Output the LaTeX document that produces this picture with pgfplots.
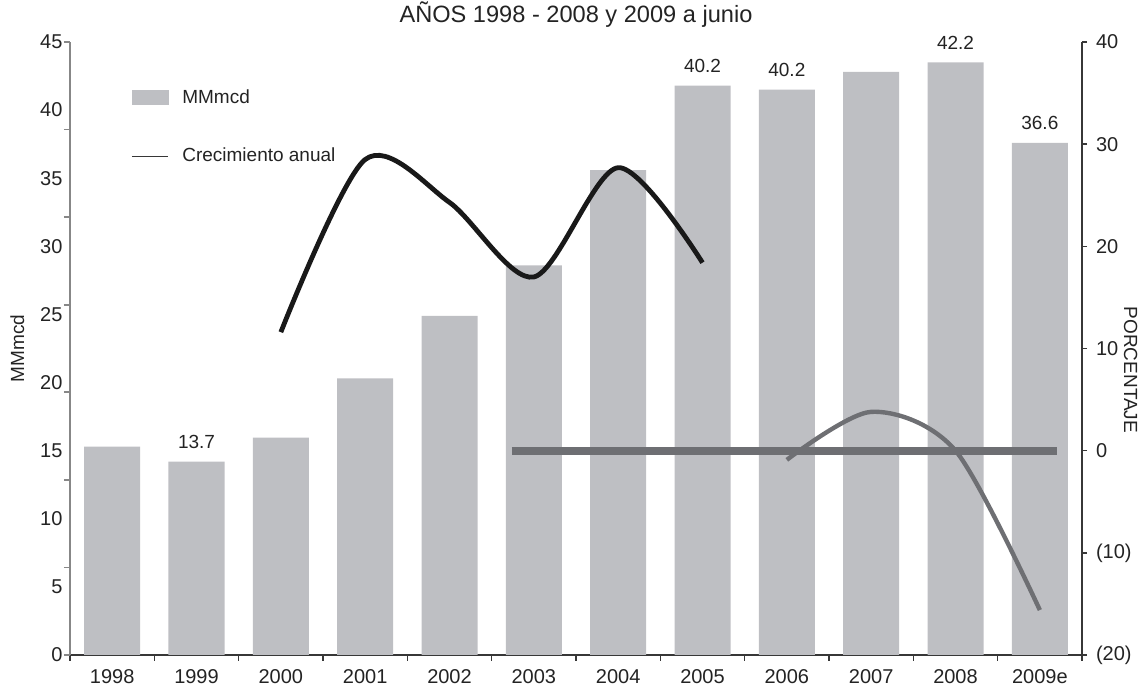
\documentclass[border=0pt]{standalone}
\usepackage{pgfplots}
\pgfplotsset{compat=1.18}
\usepackage{fontspec}
\setmainfont{Liberation Sans}
\definecolor{barGray}{RGB}{190,191,195}
\definecolor{lineGray}{RGB}{110,111,115}
\definecolor{axisDark}{RGB}{55,55,55}
\definecolor{axisGray}{RGB}{135,135,135}
\definecolor{txt}{RGB}{35,35,35}
\newcommand{\fs}{\fontsize{9.5}{11}\selectfont}
\newcommand{\fst}{\fontsize{10}{12}\selectfont}
\begin{document}
\begin{tikzpicture}
\pgfplotsset{
  base/.style={
    width=506pt, height=306.5pt, scale only axis,
    xmin=-0.5, xmax=11.5,
    /pgf/number format/assume math mode=true,
    tick label style={font=\fst, text=txt},
    label style={font=\fs, text=txt},
    axis line style={-},
    tick align=outside,
    clip=false,
  }
}
\begin{axis}[base, name=main,
  ymin=0, ymax=45,
  axis x line*=bottom, axis y line*=left,
  x axis line style={axisDark, line width=0.8pt},
  y axis line style={axisGray, line width=0.8pt},
  xtick={0,...,11},
  xticklabels={1998,1999,2000,2001,2002,2003,2004,2005,2006,2007,2008,2009e},
  major x tick style={draw=none},
  minor xtick={-0.5,0.5,1.5,2.5,3.5,4.5,5.5,6.5,7.5,8.5,9.5,10.5,11.5},
  minor x tick style={axisDark, line width=0.8pt},
  minor tick length=3pt,
  xticklabel style={yshift=0.5pt},
  ytick={0,5,...,45},
  major y tick style={draw=none},
  minor ytick={0,6.42857,12.85714,19.28571,25.71429,32.14286,38.57143,45},
  minor y tick style={axisGray, line width=0.8pt},
  yticklabel style={xshift=4pt},
  ylabel={MMmcd},
  ylabel style={at={(axis description cs:-0.052,0.5)}, anchor=center, rotate=0},
  title={AÑOS 1998 - 2008 y 2009 a junio},
  title style={at={(axis description cs:0.5,1)}, anchor=south, yshift=-2pt, font=\fontsize{11.8}{13}\selectfont, text=txt},
  legend style={draw=none, fill=none, at={(axis description cs:0.060,0.93)}, anchor=north west,
    font=\fs, text=txt, inner sep=0pt, row sep=17pt},
  legend cell align=left,
]
\addplot[ybar, bar width=28pt, fill=barGray, draw=none, forget plot,
  nodes near coords, point meta=explicit symbolic,
  nodes near coords style={font=\fs, text=txt, anchor=south, yshift=3pt}]
  coordinates {
  (0,15.3) []
  (1,14.2) [13.7]
  (2,15.95) []
  (3,20.3) []
  (4,24.9) []
  (5,28.6) []
  (6,35.6) []
  (7,41.8) [40.2]
  (8,41.5) [40.2]
  (9,42.8) []
  (10,43.5) [42.2]
  (11,37.6) [36.6]
  };
\addlegendimage{legend image code/.code={\fill[barGray] (0pt,-3.5pt) rectangle (18pt,3.5pt); \path (23pt,0pt);}}
\addlegendentry{MMmcd}
\addlegendimage{legend image code/.code={\draw[axisDark, line width=0.8pt] (0pt,0pt) -- (18pt,0pt); \path (23pt,0pt);}}
\addlegendentry{Crecimiento anual}
\end{axis}
\begin{axis}[base,
  ymin=-20, ymax=40,
  axis x line=none, axis y line*=right,
  y axis line style={axisDark, line width=0.8pt},
  ytick={-20,-10,...,40},
  yticklabels={(20),(10),0,10,20,30,40},
  major tick length=2.5pt,
  major y tick style={axisDark, line width=0.8pt},
  yticklabel style={xshift=1pt},
  ylabel={PORCENTAJE},
  ylabel style={at={(axis description cs:1.048,0.465)}, anchor=center, rotate=180},
]
\addplot[lineGray, line width=4pt] coordinates {(4.74,0) (11.2,0)};
\addplot[black!90, line width=2.4pt, smooth] coordinates {
  (2,11.6) (3,28.5) (4,24.3) (5,17.0) (6,27.7) (7,18.4)};
\addplot[lineGray, line width=2.2pt, smooth] coordinates {
  (8,-0.9) (9,3.8) (10,0) (11,-15.6)};
\end{axis}
\pgfresetboundingbox
\path ([xshift=-35pt,yshift=-20pt]main.south west) rectangle ([xshift=32.5pt,yshift=21pt]main.north east);
\end{tikzpicture}
\end{document}
